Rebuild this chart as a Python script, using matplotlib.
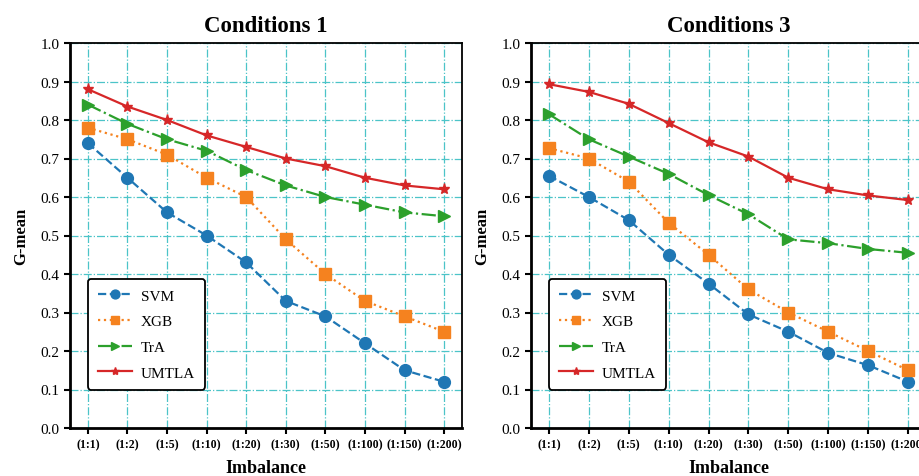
import numpy as np
import matplotlib
matplotlib.use("Agg")
import matplotlib.pyplot as plt

plt.rcParams['font.family'] = ['Liberation Serif', 'DejaVu Serif']

ratios = ['(1:1)', '(1:2)', '(1:5)', '(1:10)', '(1:20)', '(1:30)',
          '(1:50)', '(1:100)', '(1:150)', '(1:200)']

# Conditions 1
svm_c1 = [0.74, 0.65, 0.56, 0.50, 0.43, 0.33, 0.29, 0.22, 0.15, 0.12]
xgb_c1 = [0.78, 0.75, 0.71, 0.65, 0.60, 0.49, 0.40, 0.33, 0.29, 0.25]
tra_c1 = [0.84, 0.79, 0.75, 0.72, 0.67, 0.63, 0.60, 0.58, 0.56, 0.55]
umtla_c1 = [0.88, 0.835, 0.80, 0.76, 0.73, 0.70, 0.68, 0.65, 0.63, 0.62]

# Conditions 3
svm_c3 = [0.655, 0.60, 0.54, 0.45, 0.375, 0.295, 0.25, 0.195, 0.163, 0.12]
xgb_c3 = [0.727, 0.70, 0.64, 0.533, 0.45, 0.36, 0.30, 0.25, 0.20, 0.15]
tra_c3 = [0.815, 0.75, 0.705, 0.66, 0.605, 0.555, 0.49, 0.48, 0.465, 0.455]
umtla_c3 = [0.893, 0.873, 0.842, 0.792, 0.742, 0.705, 0.65, 0.62, 0.604, 0.592]

methods = ['SVM', 'XGB', 'TrA', 'UMTLA']
colors = ['#1f77b4', '#f5821f', '#2ca02c', '#d62728']
styles = ['--', ':', '-.', '-']
markers = ['o', 's', '>', '*']
msizes = [8.5, 8.5, 8.5, 8]

panels = [
    ('Conditions 1', [svm_c1, xgb_c1, tra_c1, umtla_c1], [70, 392]),
    ('Conditions 3', [svm_c3, xgb_c3, tra_c3, umtla_c3], [531, 395]),
]

W, H = 919, 477
fig = plt.figure(figsize=(W / 100, H / 100), dpi=100)

x = np.arange(len(ratios))
for title, series, (left, width) in panels:
    ax = fig.add_axes([left / W, 48 / H, width / W, 385 / H])
    for vals, name, c, ls, m, ms in zip(series, methods, colors, styles, markers, msizes):
        ax.plot(x, vals, linestyle=ls, marker=m, color=c, label=name,
                linewidth=1.6, markersize=ms, zorder=3)
    ax.set_xlim(-0.45, len(ratios) - 0.55)
    ax.set_ylim(0, 1.0)
    ax.set_yticks(np.arange(0, 1.01, 0.1))
    ax.set_yticklabels(['%.1f' % v for v in np.arange(0, 1.01, 0.1)], fontsize=11)
    ax.set_xticks(x)
    ax.set_xticklabels(ratios, fontsize=8.5, fontweight='bold')
    ax.tick_params(direction='out', length=4, width=1.5)
    ax.grid(True, color='#4cc4c8', linestyle='-.', linewidth=0.9, zorder=0)
    ax.set_axisbelow(True)
    for side in ['left', 'bottom']:
        ax.spines[side].set_linewidth(2)
    for side in ['top', 'right']:
        ax.spines[side].set_linewidth(1.3)
    ax.set_title(title, fontsize=16.5, fontweight='bold', pad=9)
    ax.set_xlabel('Imbalance', fontsize=13, fontweight='bold', labelpad=6)
    ax.set_ylabel('G-mean', fontsize=12, fontweight='bold', labelpad=8)
    leg = ax.legend(loc='lower left', bbox_to_anchor=(0.046, 0.10),
                    borderaxespad=0, fontsize=11, fancybox=True,
                    edgecolor='black', framealpha=1, handlelength=2.2,
                    labelspacing=0.78, markerscale=0.75, borderpad=0.65,
                    handletextpad=0.6)
    leg.get_frame().set_linewidth(1.3)

fig.savefig('out.png', dpi=100)
